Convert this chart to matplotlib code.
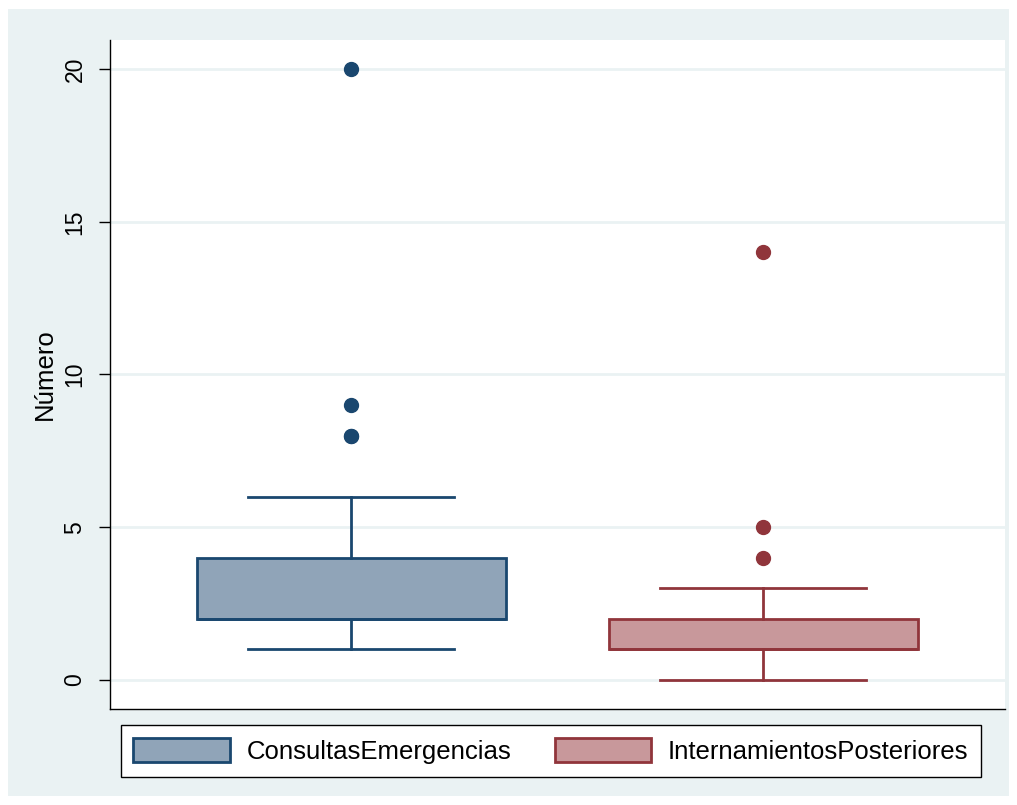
import matplotlib.pyplot as plt
from matplotlib.patches import Patch, Rectangle

plt.rcParams['font.family'] = ['Liberation Sans', 'DejaVu Sans']

series = ['ConsultasEmergencias', 'InternamientosPosteriores']
whislo = [1, 0]
q1 = [2, 1]
med = [2, 1]
q3 = [4, 2]
whishi = [6, 3]
fliers = [[8, 8, 9, 20], [4, 5, 14]]
yticks = [0, 5, 10, 15, 20]

edge_cols = ['#1a476f', '#90353b']
fill_cols = ['#90a4b8', '#c8989b']
bg = '#eaf2f3'

fig = plt.figure(figsize=(10.17, 8.05), dpi=100)
fig.patch.set_facecolor('white')
# outer graph region
fig.add_artist(Rectangle((8 / 1017, 9 / 805), 1001 / 1017, 787 / 805,
                         transform=fig.transFigure, facecolor=bg,
                         edgecolor='none', zorder=0))

ax = fig.add_axes([110 / 1017, 1 - 709 / 805, 895 / 1017, 669 / 805])
ax.set_facecolor('white')

for i in range(2):
    st = dict(whislo=whislo[i], q1=q1[i], med=med[i], q3=q3[i],
              whishi=whishi[i], fliers=fliers[i], label=series[i])
    ax.bxp([st], positions=[i + 1], widths=0.75, patch_artist=True,
           showfliers=True,
           boxprops=dict(facecolor=fill_cols[i], edgecolor=edge_cols[i], linewidth=2),
           medianprops=dict(color=edge_cols[i], linewidth=2),
           whiskerprops=dict(color=edge_cols[i], linewidth=2),
           capprops=dict(color=edge_cols[i], linewidth=2),
           capwidths=0.5,
           flierprops=dict(marker='o', markerfacecolor=edge_cols[i],
                           markeredgecolor=edge_cols[i], markersize=10))

ax.set_xlim(0.415, 2.587)
ax.set_ylim(-0.95, 20.95)
ax.set_xticks([])
ax.set_yticks(yticks)
ax.set_yticklabels([str(t) for t in yticks], rotation=90, va='center', fontsize=16.5)
ax.tick_params(axis='y', length=8, width=1, pad=9)
ax.yaxis.grid(True, color=bg, linewidth=2)
ax.set_axisbelow(True)
for s in ['top', 'right']:
    ax.spines[s].set_visible(False)
for s in ['left', 'bottom']:
    ax.spines[s].set_linewidth(1)
ax.set_ylabel('Número', fontsize=18.5, labelpad=5)

handles = [Patch(facecolor=fill_cols[i], edgecolor=edge_cols[i], linewidth=2,
                 label=series[i]) for i in range(2)]
leg = fig.legend(handles=handles, loc='center',
                 bbox_to_anchor=(551 / 1017, 1 - 751 / 805), ncol=2,
                 fontsize=18.5, frameon=True, fancybox=False,
                 handlelength=3.74, handleheight=1.05, handletextpad=0.66,
                 columnspacing=1.7, borderpad=0.5, borderaxespad=0,
                 edgecolor='black')
leg.get_frame().set_linewidth(1)
leg.get_frame().set_facecolor('white')
leg.get_frame().set_alpha(1)

fig.savefig('out.png', dpi=100, facecolor=fig.get_facecolor())
